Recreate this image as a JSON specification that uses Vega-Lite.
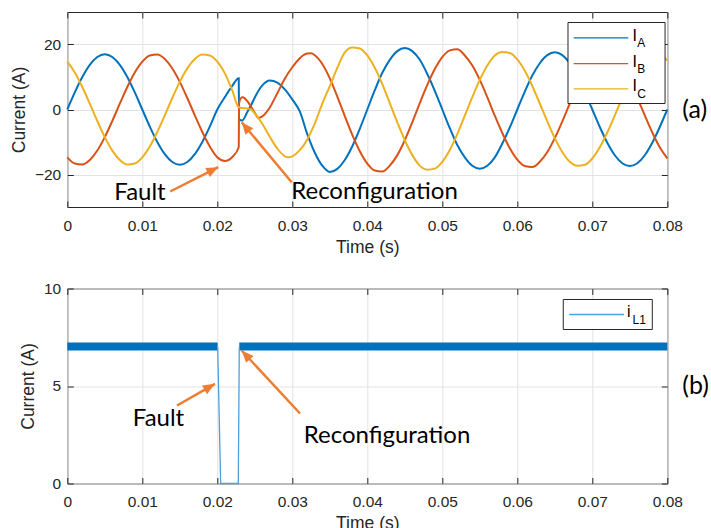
{
"$schema":"https://vega.github.io/schema/vega-lite/v6.json",
"padding":{"left":9.3,"top":11,"right":0,"bottom":0},
"background":"white",
"bounds":"flush",
"spacing":81.5,
"datasets":{
"top":[
{"t":0,"s":"A","v":0},{"t":0.001,"s":"A","v":5.25},{"t":0.002,"s":"A","v":9.99},{"t":0.003,"s":"A","v":13.75},{"t":0.004,"s":"A","v":16.17},{"t":0.005,"s":"A","v":17},{"t":0.006,"s":"A","v":16.17},{"t":0.007,"s":"A","v":13.75},{"t":0.008,"s":"A","v":9.99},{"t":0.009,"s":"A","v":5.25},{"t":0.01,"s":"A","v":0},{"t":0.011,"s":"A","v":-5.25},{"t":0.012,"s":"A","v":-9.99},{"t":0.013,"s":"A","v":-13.75},{"t":0.014,"s":"A","v":-16.17},{"t":0.015,"s":"A","v":-17},{"t":0.016,"s":"A","v":-16.17},{"t":0.017,"s":"A","v":-13.75},{"t":0.018,"s":"A","v":-9.99},{"t":0.019,"s":"A","v":-5.25},{"t":0.02,"s":"A","v":0},{"t":0.021,"s":"A","v":3.8},{"t":0.022,"s":"A","v":7.3},{"t":0.02286,"s":"A","v":9.6},{"t":0.0229,"s":"A","v":-3.0},{"t":0.0233,"s":"A","v":-3.4},{"t":0.024,"s":"A","v":-0.8},{"t":0.0245,"s":"A","v":1.3},{"t":0.025,"s":"A","v":3.7},{"t":0.026,"s":"A","v":7.4},{"t":0.027,"s":"A","v":8.9},{"t":0.028,"s":"A","v":8.3},{"t":0.029,"s":"A","v":6.2},{"t":0.03,"s":"A","v":3.1},{"t":0.031,"s":"A","v":-0.6},{"t":0.032,"s":"A","v":-7.6},{"t":0.033,"s":"A","v":-13.3},{"t":0.034,"s":"A","v":-17.3},{"t":0.035,"s":"A","v":-19.2},{"t":0.036,"s":"A","v":-18.26},{"t":0.037,"s":"A","v":-15.53},{"t":0.038,"s":"A","v":-11.29},{"t":0.039,"s":"A","v":-5.93},{"t":0.04,"s":"A","v":0},{"t":0.041,"s":"A","v":5.93},{"t":0.042,"s":"A","v":11.29},{"t":0.043,"s":"A","v":15.29},{"t":0.044,"s":"A","v":17.97},{"t":0.045,"s":"A","v":18.9},{"t":0.046,"s":"A","v":17.97},{"t":0.047,"s":"A","v":15.29},{"t":0.048,"s":"A","v":10.94},{"t":0.049,"s":"A","v":5.75},{"t":0.05,"s":"A","v":0},{"t":0.051,"s":"A","v":-5.75},{"t":0.052,"s":"A","v":-10.94},{"t":0.053,"s":"A","v":-14.72},{"t":0.054,"s":"A","v":-17.31},{"t":0.055,"s":"A","v":-18.2},{"t":0.056,"s":"A","v":-17.31},{"t":0.057,"s":"A","v":-14.72},{"t":0.058,"s":"A","v":-10.47},{"t":0.059,"s":"A","v":-5.5},{"t":0.06,"s":"A","v":0},{"t":0.061,"s":"A","v":5.5},{"t":0.062,"s":"A","v":10.47},{"t":0.063,"s":"A","v":14.24},{"t":0.064,"s":"A","v":16.74},{"t":0.065,"s":"A","v":17.6},{"t":0.066,"s":"A","v":16.74},{"t":0.067,"s":"A","v":14.24},{"t":0.068,"s":"A","v":10.23},{"t":0.069,"s":"A","v":5.38},{"t":0.07,"s":"A","v":0},{"t":0.071,"s":"A","v":-5.38},{"t":0.072,"s":"A","v":-10.23},{"t":0.073,"s":"A","v":-14.08},{"t":0.074,"s":"A","v":-16.55},{"t":0.075,"s":"A","v":-17.4},{"t":0.076,"s":"A","v":-16.55},{"t":0.077,"s":"A","v":-14.08},{"t":0.078,"s":"A","v":-10.23},{"t":0.079,"s":"A","v":-5.38},{"t":0.08,"s":"A","v":0},
{"t":0,"s":"B","v":-14.72},{"t":0.001,"s":"B","v":-16.63},{"t":0.002,"s":"B","v":-16.91},{"t":0.003,"s":"B","v":-15.53},{"t":0.004,"s":"B","v":-12.63},{"t":0.005,"s":"B","v":-8.5},{"t":0.006,"s":"B","v":-3.53},{"t":0.007,"s":"B","v":1.78},{"t":0.008,"s":"B","v":6.91},{"t":0.009,"s":"B","v":11.37},{"t":0.01,"s":"B","v":14.72},{"t":0.011,"s":"B","v":16.63},{"t":0.012,"s":"B","v":16.91},{"t":0.013,"s":"B","v":15.53},{"t":0.014,"s":"B","v":12.63},{"t":0.015,"s":"B","v":8.5},{"t":0.016,"s":"B","v":3.53},{"t":0.017,"s":"B","v":-1.78},{"t":0.018,"s":"B","v":-6.91},{"t":0.019,"s":"B","v":-11.37},{"t":0.02,"s":"B","v":-14.72},{"t":0.021,"s":"B","v":-15.85},{"t":0.022,"s":"B","v":-14.6},{"t":0.02286,"s":"B","v":-11.6},{"t":0.0229,"s":"B","v":2.0},{"t":0.0233,"s":"B","v":3.8},{"t":0.0235,"s":"B","v":3.7},{"t":0.024,"s":"B","v":2.6},{"t":0.0245,"s":"B","v":0.9},{"t":0.025,"s":"B","v":-1.0},{"t":0.0255,"s":"B","v":-2.6},{"t":0.026,"s":"B","v":-2.1},{"t":0.027,"s":"B","v":0.6},{"t":0.028,"s":"B","v":5.0},{"t":0.029,"s":"B","v":9.5},{"t":0.03,"s":"B","v":13.0},{"t":0.031,"s":"B","v":15.8},{"t":0.032,"s":"B","v":17.2},{"t":0.0325,"s":"B","v":17.3},{"t":0.033,"s":"B","v":16.7},{"t":0.034,"s":"B","v":14.0},{"t":0.035,"s":"B","v":9.6},{"t":0.036,"s":"B","v":3.99},{"t":0.037,"s":"B","v":-2.02},{"t":0.038,"s":"B","v":-7.81},{"t":0.039,"s":"B","v":-12.84},{"t":0.04,"s":"B","v":-16.63},{"t":0.041,"s":"B","v":-18.78},{"t":0.042,"s":"B","v":-19.1},{"t":0.043,"s":"B","v":-17.27},{"t":0.044,"s":"B","v":-14.04},{"t":0.045,"s":"B","v":-9.45},{"t":0.046,"s":"B","v":-3.93},{"t":0.047,"s":"B","v":1.98},{"t":0.048,"s":"B","v":7.57},{"t":0.049,"s":"B","v":12.44},{"t":0.05,"s":"B","v":16.11},{"t":0.051,"s":"B","v":18.19},{"t":0.052,"s":"B","v":18.51},{"t":0.053,"s":"B","v":16.63},{"t":0.054,"s":"B","v":13.52},{"t":0.055,"s":"B","v":9.1},{"t":0.056,"s":"B","v":3.79},{"t":0.057,"s":"B","v":-1.91},{"t":0.058,"s":"B","v":-7.24},{"t":0.059,"s":"B","v":-11.91},{"t":0.06,"s":"B","v":-15.41},{"t":0.061,"s":"B","v":-17.41},{"t":0.062,"s":"B","v":-17.71},{"t":0.063,"s":"B","v":-16.09},{"t":0.064,"s":"B","v":-13.08},{"t":0.065,"s":"B","v":-8.8},{"t":0.066,"s":"B","v":-3.66},{"t":0.067,"s":"B","v":1.85},{"t":0.068,"s":"B","v":7.08},{"t":0.069,"s":"B","v":11.64},{"t":0.07,"s":"B","v":15.07},{"t":0.071,"s":"B","v":17.02},{"t":0.072,"s":"B","v":17.31},{"t":0.073,"s":"B","v":15.9},{"t":0.074,"s":"B","v":12.93},{"t":0.075,"s":"B","v":8.7},{"t":0.076,"s":"B","v":3.62},{"t":0.077,"s":"B","v":-1.83},{"t":0.078,"s":"B","v":-7.08},{"t":0.079,"s":"B","v":-11.64},{"t":0.08,"s":"B","v":-15.07},
{"t":0,"s":"C","v":14.72},{"t":0.001,"s":"C","v":11.38},{"t":0.002,"s":"C","v":6.92},{"t":0.003,"s":"C","v":1.78},{"t":0.004,"s":"C","v":-3.54},{"t":0.005,"s":"C","v":-8.5},{"t":0.006,"s":"C","v":-12.64},{"t":0.007,"s":"C","v":-15.53},{"t":0.008,"s":"C","v":-16.9},{"t":0.009,"s":"C","v":-16.62},{"t":0.01,"s":"C","v":-14.72},{"t":0.011,"s":"C","v":-11.38},{"t":0.012,"s":"C","v":-6.92},{"t":0.013,"s":"C","v":-1.78},{"t":0.014,"s":"C","v":3.54},{"t":0.015,"s":"C","v":8.5},{"t":0.016,"s":"C","v":12.64},{"t":0.017,"s":"C","v":15.53},{"t":0.018,"s":"C","v":16.9},{"t":0.019,"s":"C","v":16.62},{"t":0.02,"s":"C","v":14.72},{"t":0.021,"s":"C","v":11.2},{"t":0.022,"s":"C","v":5.8},{"t":0.02286,"s":"C","v":0.7},{"t":0.0235,"s":"C","v":0.4},{"t":0.024,"s":"C","v":0.3},{"t":0.0245,"s":"C","v":0.0},{"t":0.025,"s":"C","v":-1.2},{"t":0.026,"s":"C","v":-4.4},{"t":0.027,"s":"C","v":-8.4},{"t":0.028,"s":"C","v":-12.0},{"t":0.029,"s":"C","v":-14.4},{"t":0.0295,"s":"C","v":-14.7},{"t":0.03,"s":"C","v":-14.4},{"t":0.031,"s":"C","v":-12.5},{"t":0.032,"s":"C","v":-9.2},{"t":0.033,"s":"C","v":-4.3},{"t":0.034,"s":"C","v":1.8},{"t":0.035,"s":"C","v":7.2},{"t":0.036,"s":"C","v":12.8},{"t":0.037,"s":"C","v":17.55},{"t":0.038,"s":"C","v":19.1},{"t":0.039,"s":"C","v":18.78},{"t":0.04,"s":"C","v":16.63},{"t":0.041,"s":"C","v":12.84},{"t":0.042,"s":"C","v":7.81},{"t":0.043,"s":"C","v":1.98},{"t":0.044,"s":"C","v":-3.93},{"t":0.045,"s":"C","v":-9.45},{"t":0.046,"s":"C","v":-14.04},{"t":0.047,"s":"C","v":-17.27},{"t":0.048,"s":"C","v":-18.51},{"t":0.049,"s":"C","v":-18.19},{"t":0.05,"s":"C","v":-16.11},{"t":0.051,"s":"C","v":-12.44},{"t":0.052,"s":"C","v":-7.57},{"t":0.053,"s":"C","v":-1.91},{"t":0.054,"s":"C","v":3.79},{"t":0.055,"s":"C","v":9.1},{"t":0.056,"s":"C","v":13.52},{"t":0.057,"s":"C","v":16.63},{"t":0.058,"s":"C","v":17.71},{"t":0.059,"s":"C","v":17.41},{"t":0.06,"s":"C","v":15.41},{"t":0.061,"s":"C","v":11.91},{"t":0.062,"s":"C","v":7.24},{"t":0.063,"s":"C","v":1.85},{"t":0.064,"s":"C","v":-3.66},{"t":0.065,"s":"C","v":-8.8},{"t":0.066,"s":"C","v":-13.08},{"t":0.067,"s":"C","v":-16.09},{"t":0.068,"s":"C","v":-17.31},{"t":0.069,"s":"C","v":-17.02},{"t":0.07,"s":"C","v":-15.07},{"t":0.071,"s":"C","v":-11.64},{"t":0.072,"s":"C","v":-7.08},{"t":0.073,"s":"C","v":-1.83},{"t":0.074,"s":"C","v":3.62},{"t":0.075,"s":"C","v":8.7},{"t":0.076,"s":"C","v":12.93},{"t":0.077,"s":"C","v":15.9},{"t":0.078,"s":"C","v":17.31},{"t":0.079,"s":"C","v":17.02},{"t":0.08,"s":"C","v":15.07}
],
"band":[{"t0":0,"t1":0.02005,"lo":6.82,"hi":7.23},{"t0":0.02293,"t1":0.08,"lo":6.82,"hi":7.23}],
"trans":[{"t":0.02005,"i":7.0},{"t":0.02045,"i":0},{"t":0.0228,"i":0},{"t":0.02293,"i":7.0}]
},
"config":{
"view":{"stroke":"#262626","strokeWidth":1},
"axis":{"labelFont":"Liberation Sans","labelFontSize":15.5,"labelColor":"#262626","labelFlush":false,"labelOverlap":false,"titleFont":"Liberation Sans","titleFontSize":17.5,"titleFontWeight":"normal","titleColor":"#262626","domain":false,"tickColor":"#262626","tickSize":-6,"gridColor":"#e3e3e3","gridWidth":1},
"axisX":{"labelPadding":17,"titlePadding":5},
"axisY":{"labelPadding":12.6,"titlePadding":6}
},
"vconcat":[
{
"width":600,"height":195,
"resolve":{"axis":{"x":"independent","y":"independent"}},
"layer":[
{"data":{"name":"top"},"mark":{"type":"line","interpolate":"monotone","strokeWidth":2},
"encoding":{
"x":{"field":"t","type":"quantitative","scale":{"domain":[0,0.08],"nice":false},"axis":{"orient":"bottom","values":[0,0.01,0.02,0.03,0.04,0.05,0.06,0.07,0.08],"format":".2~f","title":"Time (s)","grid":true}},
"y":{"field":"v","type":"quantitative","scale":{"domain":[-30,30],"nice":false},"axis":{"orient":"left","values":[-20,0,20],"title":"Current (A)","grid":true}},
"color":{"field":"s","type":"nominal","scale":{"domain":["A","B","C"],"range":["#0072BD","#D95319","#EDB120"]},"legend":null}}},
{"data":{"name":"top"},"transform":[{"filter":"datum.t == 0"}],"mark":{"type":"point","opacity":0},
"encoding":{
"x":{"field":"t","type":"quantitative","axis":{"orient":"top","labels":false,"title":null,"grid":false,"values":[0,0.01,0.02,0.03,0.04,0.05,0.06,0.07,0.08]}},
"y":{"field":"v","type":"quantitative","axis":{"orient":"right","labels":false,"grid":false,"values":[-20,0,20],"title":"(a)","titleAngle":0,"titleAlign":"left","titleBaseline":"middle","titleFont":"Lato","titleFontSize":25,"titleColor":"#000000","titlePadding":14}}}},
{"data":{"values":[{}]},"mark":{"type":"rect","fill":"white","stroke":"#262626","strokeWidth":1},
"encoding":{"x":{"datum":0.06676,"type":"quantitative","axis":null},"x2":{"datum":0.0797},"y":{"datum":26.77,"type":"quantitative","axis":null},"y2":{"datum":1.846}}},
{"data":{"values":[{}]},"mark":{"type":"rule","stroke":"#0072BD","strokeWidth":1.3},
"encoding":{"x":{"datum":0.06752,"type":"quantitative","axis":null},"x2":{"datum":0.07479},"y":{"datum":22.06,"type":"quantitative","axis":null}}},
{"data":{"values":[{}]},"mark":{"type":"rule","stroke":"#D95319","strokeWidth":1.3},
"encoding":{"x":{"datum":0.06752,"type":"quantitative","axis":null},"x2":{"datum":0.07479},"y":{"datum":14.09,"type":"quantitative","axis":null}}},
{"data":{"values":[{}]},"mark":{"type":"rule","stroke":"#EDB120","strokeWidth":1.3},
"encoding":{"x":{"datum":0.06752,"type":"quantitative","axis":null},"x2":{"datum":0.07479},"y":{"datum":6.37,"type":"quantitative","axis":null}}},
{"data":{"values":[{}]},"mark":{"type":"text","text":"I","font":"Liberation Sans","fontSize":16,"align":"left","baseline":"alphabetic","color":"#000000"},
"encoding":{"x":{"datum":0.07536,"type":"quantitative","axis":null},"y":{"datum":21.23,"type":"quantitative","axis":null}}},
{"data":{"values":[{}]},"mark":{"type":"text","text":"A","font":"Liberation Sans","fontSize":12,"align":"left","baseline":"alphabetic","color":"#000000"},
"encoding":{"x":{"datum":0.076,"type":"quantitative","axis":null},"y":{"datum":19.17,"type":"quantitative","axis":null}}},
{"data":{"values":[{}]},"mark":{"type":"text","text":"I","font":"Liberation Sans","fontSize":16,"align":"left","baseline":"alphabetic","color":"#000000"},
"encoding":{"x":{"datum":0.07536,"type":"quantitative","axis":null},"y":{"datum":13.23,"type":"quantitative","axis":null}}},
{"data":{"values":[{}]},"mark":{"type":"text","text":"B","font":"Liberation Sans","fontSize":12,"align":"left","baseline":"alphabetic","color":"#000000"},
"encoding":{"x":{"datum":0.076,"type":"quantitative","axis":null},"y":{"datum":11.17,"type":"quantitative","axis":null}}},
{"data":{"values":[{}]},"mark":{"type":"text","text":"I","font":"Liberation Sans","fontSize":16,"align":"left","baseline":"alphabetic","color":"#000000"},
"encoding":{"x":{"datum":0.07536,"type":"quantitative","axis":null},"y":{"datum":5.54,"type":"quantitative","axis":null}}},
{"data":{"values":[{}]},"mark":{"type":"text","text":"C","font":"Liberation Sans","fontSize":12,"align":"left","baseline":"alphabetic","color":"#000000"},
"encoding":{"x":{"datum":0.076,"type":"quantitative","axis":null},"y":{"datum":3.48,"type":"quantitative","axis":null}}},
{"data":{"values":[{}]},"mark":{"type":"rule","stroke":"#ED7D31","strokeWidth":2.5},
"encoding":{"x":{"datum":0.01372,"type":"quantitative","axis":null},"y":{"datum":-25.23,"type":"quantitative","axis":null},"x2":{"datum":0.02013},"y2":{"datum":-17.75}}},
{"data":{"values":[{}]},"mark":{"type":"point","shape":"M0,0L0.42,1L-0.42,1Z","filled":true,"color":"#ED7D31","opacity":1,"size":576,"angle":63.3,"strokeWidth":0},
"encoding":{"x":{"datum":0.02013,"type":"quantitative","axis":null},"y":{"datum":-17.75,"type":"quantitative","axis":null}}},
{"data":{"values":[{}]},"mark":{"type":"rule","stroke":"#ED7D31","strokeWidth":2.5},
"encoding":{"x":{"datum":0.02992,"type":"quantitative","axis":null},"y":{"datum":-22.37,"type":"quantitative","axis":null},"x2":{"datum":0.02325},"y2":{"datum":-3.91}}},
{"data":{"values":[{}]},"mark":{"type":"point","shape":"M0,0L0.42,1L-0.42,1Z","filled":true,"color":"#ED7D31","opacity":1,"size":576,"angle":320.2,"strokeWidth":0},
"encoding":{"x":{"datum":0.02325,"type":"quantitative","axis":null},"y":{"datum":-3.91,"type":"quantitative","axis":null}}},
{"data":{"values":[{}]},"mark":{"type":"text","text":"Fault","font":"Lato","fontSize":24,"align":"center","baseline":"alphabetic","color":"#000000"},
"encoding":{"x":{"datum":0.00969,"type":"quantitative","axis":null},"y":{"datum":-27.7,"type":"quantitative","axis":null}}},
{"data":{"values":[{}]},"mark":{"type":"text","text":"Reconfiguration","font":"Lato","fontSize":24,"align":"center","baseline":"alphabetic","color":"#000000"},
"encoding":{"x":{"datum":0.04096,"type":"quantitative","axis":null},"y":{"datum":-27.4,"type":"quantitative","axis":null}}}
]
},
{
"width":600,"height":195,
"resolve":{"axis":{"x":"independent","y":"independent"}},
"layer":[
{"data":{"name":"band"},"mark":{"type":"rect","color":"#0072BD"},
"encoding":{
"x":{"field":"t0","type":"quantitative","scale":{"domain":[0,0.08],"nice":false},"axis":{"orient":"bottom","values":[0,0.01,0.02,0.03,0.04,0.05,0.06,0.07,0.08],"format":".2~f","title":"Time (s)","grid":true}},
"x2":{"field":"t1"},
"y":{"field":"lo","type":"quantitative","scale":{"domain":[0,10],"nice":false},"axis":{"orient":"left","values":[0,5,10],"title":"Current (A)","grid":true}},
"y2":{"field":"hi"}}},
{"data":{"name":"trans"},"mark":{"type":"line","color":"#4F9FDA","strokeWidth":1.3},
"encoding":{"x":{"field":"t","type":"quantitative","axis":null},"y":{"field":"i","type":"quantitative","axis":null}}},
{"data":{"name":"trans"},"mark":{"type":"point","opacity":0},
"encoding":{
"x":{"field":"t","type":"quantitative","axis":{"orient":"top","labels":false,"title":null,"grid":false,"values":[0,0.01,0.02,0.03,0.04,0.05,0.06,0.07,0.08]}},
"y":{"field":"i","type":"quantitative","axis":{"orient":"right","labels":false,"grid":false,"values":[0,5,10],"title":"(b)","titleAngle":0,"titleAlign":"left","titleBaseline":"middle","titleFont":"Lato","titleFontSize":25,"titleColor":"#000000","titlePadding":14}}}},
{"data":{"values":[{}]},"mark":{"type":"rect","fill":"white","stroke":"#262626","strokeWidth":1},
"encoding":{"x":{"datum":0.06613,"type":"quantitative","axis":null},"x2":{"datum":0.078},"y":{"datum":9.436,"type":"quantitative","axis":null},"y2":{"datum":7.897}}},
{"data":{"values":[{}]},"mark":{"type":"rule","stroke":"#4F9FDA","strokeWidth":1.3},
"encoding":{"x":{"datum":0.06693,"type":"quantitative","axis":null},"x2":{"datum":0.07422},"y":{"datum":8.667,"type":"quantitative","axis":null}}},
{"data":{"values":[{}]},"mark":{"type":"text","text":"i","font":"Liberation Sans","fontSize":16,"align":"left","baseline":"alphabetic","color":"#000000"},
"encoding":{"x":{"datum":0.07463,"type":"quantitative","axis":null},"y":{"datum":8.513,"type":"quantitative","axis":null}}},
{"data":{"values":[{}]},"mark":{"type":"text","text":"L1","font":"Liberation Sans","fontSize":12,"align":"left","baseline":"alphabetic","color":"#000000"},
"encoding":{"x":{"datum":0.07536,"type":"quantitative","axis":null},"y":{"datum":8.205,"type":"quantitative","axis":null}}},
{"data":{"values":[{}]},"mark":{"type":"rule","stroke":"#ED7D31","strokeWidth":2.5},
"encoding":{"x":{"datum":0.01463,"type":"quantitative","axis":null},"y":{"datum":4.0,"type":"quantitative","axis":null},"x2":{"datum":0.01969},"y2":{"datum":5.11}}},
{"data":{"values":[{}]},"mark":{"type":"point","shape":"M0,0L0.42,1L-0.42,1Z","filled":true,"color":"#ED7D31","opacity":1,"size":576,"angle":60.3,"strokeWidth":0},
"encoding":{"x":{"datum":0.01969,"type":"quantitative","axis":null},"y":{"datum":5.11,"type":"quantitative","axis":null}}},
{"data":{"values":[{}]},"mark":{"type":"rule","stroke":"#ED7D31","strokeWidth":2.5},
"encoding":{"x":{"datum":0.03103,"type":"quantitative","axis":null},"y":{"datum":3.59,"type":"quantitative","axis":null},"x2":{"datum":0.02325},"y2":{"datum":6.82}}},
{"data":{"values":[{}]},"mark":{"type":"point","shape":"M0,0L0.42,1L-0.42,1Z","filled":true,"color":"#ED7D31","opacity":1,"size":576,"angle":317.2,"strokeWidth":0},
"encoding":{"x":{"datum":0.02325,"type":"quantitative","axis":null},"y":{"datum":6.82,"type":"quantitative","axis":null}}},
{"data":{"values":[{}]},"mark":{"type":"text","text":"Fault","font":"Lato","fontSize":24,"align":"center","baseline":"alphabetic","color":"#000000"},
"encoding":{"x":{"datum":0.01216,"type":"quantitative","axis":null},"y":{"datum":2.97,"type":"quantitative","axis":null}}},
{"data":{"values":[{}]},"mark":{"type":"text","text":"Reconfiguration","font":"Lato","fontSize":24,"align":"center","baseline":"alphabetic","color":"#000000"},
"encoding":{"x":{"datum":0.04263,"type":"quantitative","axis":null},"y":{"datum":2.1,"type":"quantitative","axis":null}}}
]
}
]
}
